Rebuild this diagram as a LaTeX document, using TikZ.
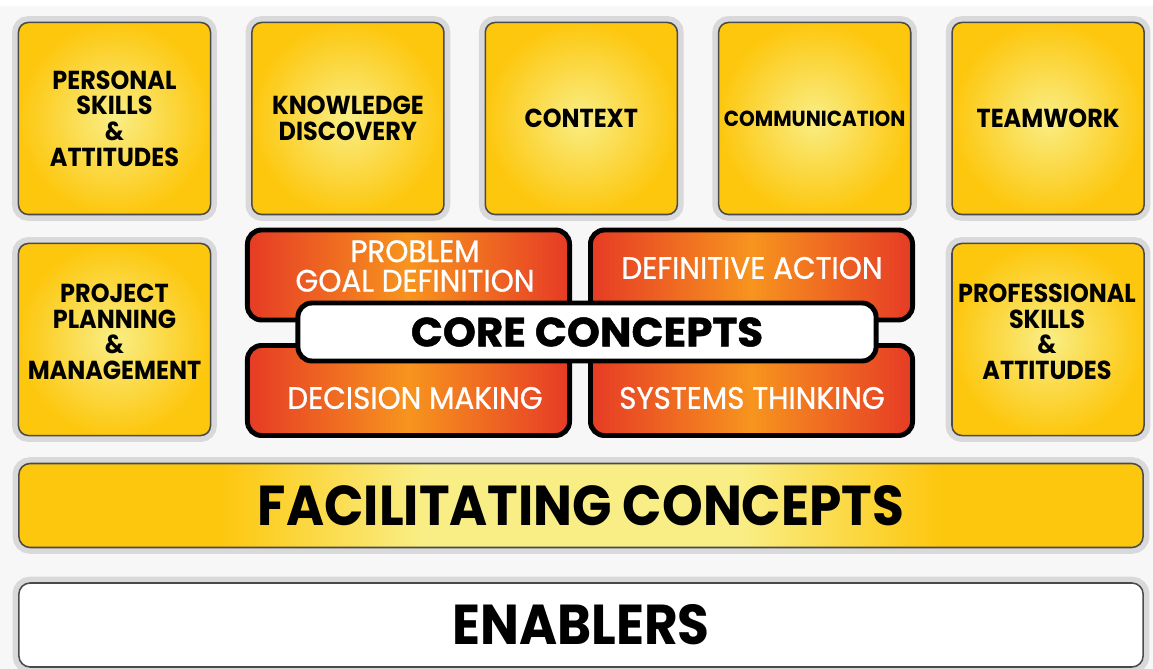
\documentclass[tikz,border=0pt]{standalone}
\usepackage{fontspec}
\setmainfont{Poppins}
\newfontfamily\condfont[FakeStretch=0.92]{Poppins}
\newfontfamily\barfont[FakeStretch=0.92]{Poppins}
\newfontfamily\redfont[FakeStretch=0.95, FakeBold=0.8]{Poppins}
\newfontfamily\corefont[FakeStretch=1.03, FakeBold=1.2]{Poppins}
\usetikzlibrary{shadings}

\definecolor{bgGray}{HTML}{F7F7F7}
\definecolor{haloGray}{HTML}{D9D9DB}
\definecolor{boxEdge}{HTML}{4A4A4A}
\definecolor{yOut}{HTML}{FDC70E}
\definecolor{yIn}{HTML}{F9EE86}
\definecolor{redEnd}{HTML}{E63B25}
\definecolor{orMid}{HTML}{F7941E}

\pgfdeclarehorizontalshading{facbar}{100bp}{color(0bp)=(yOut); color(34bp)=(yOut); color(43bp)=(yIn); color(57bp)=(yIn); color(66bp)=(yOut); color(100bp)=(yOut)}

\begin{document}
\begin{tikzpicture}[x=0.025cm,y=-0.025cm]
	\tikzset{
		halo/.style={preaction={draw=haloGray, line width=9pt}},
		ybox/.style={halo, draw=boxEdge, line width=1.1pt, rounded corners=7pt,
			inner color=yIn, outer color=yOut, minimum width=4.8cm, minimum height=4.8cm,
			align=center, text=black, font=\condfont\bfseries\fontsize{18.5}{18.2}\selectfont},
		ytext/.style={align=center, text=black, font=\condfont\bfseries\fontsize{18.5}{18.2}\selectfont},
		redbox/.style={draw=black, line width=3.5pt, rounded corners=10pt,
			left color=redEnd, right color=redEnd, middle color=orMid,
			minimum width=8.05cm, minimum height=2.25cm},
		redtext/.style={text=white, align=center, font=\redfont\fontsize{22}{21}\selectfont},
		barbox/.style={halo, draw=boxEdge, line width=1.1pt, rounded corners=8pt,
			minimum width=28.1cm, minimum height=2.1cm,
			font=\barfont\bfseries\fontsize{40}{40}\selectfont}
	}
	
	% background
	\useasboundingbox (0,0) rectangle (1153,669);
	\fill[bgGray] (0,0) rectangle (1153,669);
	\fill[white] (0,0) rectangle (1153,6);
	
	% top row of facilitating boxes
	\def\pitch{233.4}
	\foreach \i/\txt in {0/{PERSONAL\\SKILLS\\\&\\ATTITUDES}, 1/{KNOWLEDGE\\DISCOVERY}, 2/{CONTEXT}, 4/{TEAMWORK}}
	{
		\node[ybox] (top\i) at (114.5+\i*\pitch,118.5) {\txt};
	}
	\node[ybox, font=\condfont\bfseries\fontsize{15.5}{14}\selectfont] (top3) at (114.5+3*\pitch,118.5) {COMMUNICATION};
	
	% side boxes
	\node[ybox] (projPlan) at (114.5,339.5) {};
	\node[ybox] (profSkills) at (1048,339.5) {};
	\node[ytext] (projPlanTxt) at (114.5,332) {PROJECT\\PLANNING\\\&\\MANAGEMENT};
	\node[ytext] (profSkillsTxt) at (1047,332) {PROFESSIONAL\\SKILLS\\\&\\ATTITUDES};
	
	% core concepts
	\node[redbox] (probGoal) at (408.5,275) {};
	\node[redbox] (defAction) at (751.5,275) {};
	\node[redbox] (decMaking) at (408.5,390.5) {};
	\node[redbox] (sysThink) at (751.5,390.5) {};
	\node[draw=black, line width=3.5pt, rounded corners=10pt, fill=white,
		minimum width=14.45cm, minimum height=1.45cm,
		font=\corefont\bfseries\fontsize{29}{29}\selectfont] (core) at (587,332) {CORE CONCEPTS};
	
	\node[redtext] (probGoalTxt) at (415,266) {PROBLEM\\GOAL DEFINITION};
	\node[redtext] (defActionTxt) at (752,268) {DEFINITIVE ACTION};
	\node[redtext] (decMakingTxt) at (415,398) {DECISION MAKING};
	\node[redtext] (sysThinkTxt) at (752,398) {SYSTEMS THINKING};
	
	% bottom bars
	\node[barbox, shading=facbar] (facil) at (581,505.5) {FACILITATING CONCEPTS};
	\node[barbox, fill=white] (enablers) at (581,625) {ENABLERS};
\end{tikzpicture}
\end{document}
